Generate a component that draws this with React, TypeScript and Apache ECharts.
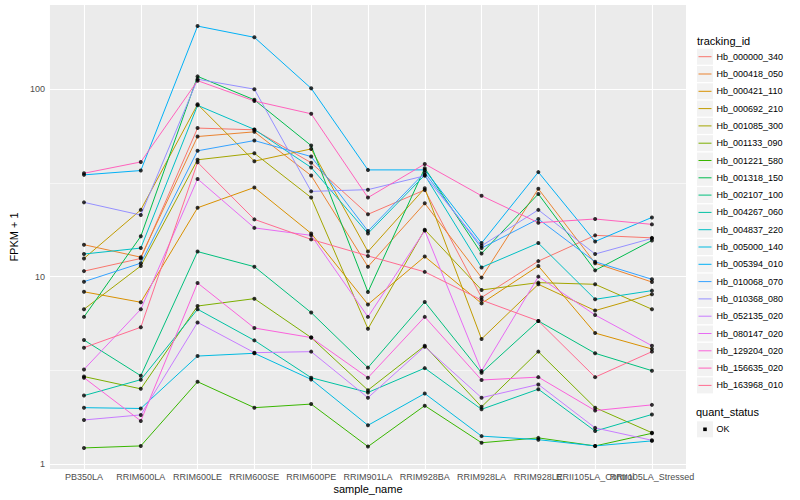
import React, { useEffect, useRef } from "react";
import * as echarts from "echarts";

const categories = [
  "PB350LA",
  "RRIM600LA",
  "RRIM600LE",
  "RRIM600SE",
  "RRIM600PE",
  "RRIM901LA",
  "RRIM928BA",
  "RRIM928LA",
  "RRIM928LE",
  "RRII105LA_Control",
  "RRII105LA_Stressed",
];

const trackingIds = [
  "Hb_000000_340",
  "Hb_000418_050",
  "Hb_000421_110",
  "Hb_000692_210",
  "Hb_001085_300",
  "Hb_001133_090",
  "Hb_001221_580",
  "Hb_001318_150",
  "Hb_002107_100",
  "Hb_004267_060",
  "Hb_004837_220",
  "Hb_005000_140",
  "Hb_005394_010",
  "Hb_010068_070",
  "Hb_010368_080",
  "Hb_052135_020",
  "Hb_080147_020",
  "Hb_129204_020",
  "Hb_156635_020",
  "Hb_163968_010",
];

const palette = [
  "#F8766D", "#EA8331", "#D89000", "#C09B00", "#A3A500",
  "#7CAE00", "#39B600", "#00BB4E", "#00BF7D", "#00C1A3",
  "#00BFC4", "#00BAE0", "#00B0F6", "#35A2FF", "#9590FF",
  "#C77CFF", "#E76BF3", "#FA62DB", "#FF62BC", "#FF6C91",
];

// FPKM + 1 per sample, in category order
const Hb_000000_340 = [10.7, 12.5, 62.0, 60.7, 40.5, 21.5, 29.0, 7.74, 12.1, 16.6, 16.1];
const Hb_000418_050 = [14.8, 12.7, 55.9, 59.2, 34.6, 11.3, 24.6, 9.88, 29.4, 11.8, 9.36];
const Hb_000421_110 = [8.3, 7.3, 23.3, 29.9, 17.0, 7.11, 12.8, 7.2, 11.4, 5.0, 4.11];
const Hb_000692_210 = [12.5, 22.7, 83.0, 41.3, 48.0, 13.6, 29.6, 4.65, 9.1, 6.59, 8.05];
const Hb_001085_300 = [6.7, 11.4, 42.0, 45.5, 26.4, 5.27, 17.8, 8.49, 9.29, 9.1, 6.7];
const Hb_001133_090 = [2.93, 2.52, 6.97, 7.63, 4.73, 2.48, 4.28, 2.02, 3.98, 2.0, 1.47];
const Hb_001221_580 = [1.22, 1.25, 2.75, 2.0, 2.09, 1.24, 2.05, 1.3, 1.38, 1.25, 1.46];
const Hb_001318_150 = [6.1, 16.4, 117, 87.7, 50.0, 8.28, 37.9, 13.3, 27.6, 10.8, 15.6];
const Hb_002107_100 = [4.59, 2.96, 13.6, 11.3, 6.43, 3.27, 7.33, 3.07, 5.8, 3.9, 3.15];
const Hb_004267_060 = [2.32, 2.82, 6.7, 4.57, 2.89, 2.41, 3.25, 1.96, 2.51, 1.5, 1.84];
const Hb_004837_220 = [13.2, 14.2, 82.0, 61.0, 38.2, 17.0, 34.8, 11.2, 15.1, 7.57, 8.42];
const Hb_005000_140 = [2.0, 1.98, 3.77, 3.9, 2.83, 1.61, 2.38, 1.41, 1.35, 1.25, 1.33];
const Hb_005394_010 = [34.9, 36.8, 217, 189, 101, 37.1, 37.1, 15.1, 36.1, 15.4, 20.7];
const Hb_010068_070 = [9.4, 11.8, 46.9, 53.2, 43.7, 17.5, 35.9, 14.2, 20.3, 12.0, 9.68];
const Hb_010368_080 = [24.9, 21.3, 113, 100, 28.5, 29.1, 34.5, 14.6, 22.7, 13.2, 16.0];
const Hb_052135_020 = [1.72, 1.83, 5.7, 3.93, 3.98, 2.26, 4.23, 2.26, 2.66, 1.56, 1.34];
const Hb_080147_020 = [3.2, 6.7, 33.2, 18.2, 16.6, 6.1, 17.6, 3.14, 10.0, 6.24, 4.28];
const Hb_129204_020 = [2.89, 1.7, 9.25, 5.32, 4.73, 2.89, 6.1, 2.81, 2.91, 1.93, 2.07];
const Hb_156635_020 = [35.6, 40.9, 111, 86.5, 73.9, 26.4, 39.9, 27.0, 19.4, 20.3, 19.0];
const Hb_163968_010 = [4.18, 5.37, 40.7, 20.2, 15.8, 12.9, 10.6, 7.5, 5.8, 2.91, 3.98];

const seriesValues = [
  Hb_000000_340, Hb_000418_050, Hb_000421_110, Hb_000692_210, Hb_001085_300,
  Hb_001133_090, Hb_001221_580, Hb_001318_150, Hb_002107_100, Hb_004267_060,
  Hb_004837_220, Hb_005000_140, Hb_005394_010, Hb_010068_070, Hb_010368_080,
  Hb_052135_020, Hb_080147_020, Hb_129204_020, Hb_156635_020, Hb_163968_010,
];

const yBreaks = [1, 10, 100];
const quantStatus = ["OK"];

const FONT = '"Liberation Sans", Arial, Helvetica, sans-serif';

export default function App() {
  const ref = useRef<HTMLDivElement>(null);

  useEffect(() => {
    if (!ref.current) return;
    const chart = echarts.init(ref.current, null, { renderer: "svg" });

    const all = seriesValues.flat();
    const lo = Math.log10(Math.min(...all));
    const hi = Math.log10(Math.max(...all));
    const pad = (hi - lo) * 0.05;
    const yMin = lo - pad;
    const yMax = hi + pad;
    const xMin = -0.6;
    const xMax = categories.length - 1 + 0.6;
    const majorY = yBreaks.map((b) => Math.log10(b));
    const minorY = majorY.slice(0, -1).map((v, i) => (v + majorY[i + 1]) / 2);
    const xIdx = categories.map((_, i) => i);

    const lineSeries = trackingIds.map((id, s) => ({
      name: id,
      type: "line",
      z: 3,
      showSymbol: false,
      symbol: "none",
      silent: true,
      lineStyle: { color: palette[s], width: 1 },
      itemStyle: { color: palette[s] },
      data: seriesValues[s].map((v, i) => [i, Math.log10(v)]),
    }));

    const pointData: number[][] = [];
    seriesValues.forEach((vals) => vals.forEach((v, i) => pointData.push([i, Math.log10(v)])));

    const gridLineData = [
      ...majorY.map((y) => ({ yAxis: y, lineStyle: { color: "#FFFFFF", width: 1.1, type: "solid" } })),
      ...minorY.map((y) => ({ yAxis: y, lineStyle: { color: "#FFFFFF", width: 0.55, type: "solid" } })),
      ...xIdx.map((x) => ({ xAxis: x, lineStyle: { color: "#FFFFFF", width: 1.1, type: "solid" } })),
    ];

    const legendX = 697;
    const legendTop = 56.7;
    const legendStep = 17.3;
    const graphics: any[] = [];
    graphics.push({
      type: "text",
      x: legendX,
      y: 40.7,
      style: { text: "tracking_id", fontSize: 11, fontFamily: FONT, fill: "#000000", verticalAlign: "middle", align: "left" },
    });
    trackingIds.forEach((id, i) => {
      const cy = legendTop + legendStep * i;
      graphics.push({
        type: "rect",
        shape: { x: legendX, y: cy - 8, width: 16, height: 16 },
        style: { fill: "#F2F2F2" },
      });
      graphics.push({
        type: "line",
        shape: { x1: legendX + 1.5, y1: cy, x2: legendX + 14.5, y2: cy },
        style: { stroke: palette[i], lineWidth: 1 },
      });
      graphics.push({
        type: "text",
        x: legendX + 19.5,
        y: cy,
        style: { text: id, fontSize: 9, fontFamily: FONT, fill: "#000000", verticalAlign: "middle", align: "left" },
      });
    });
    graphics.push({
      type: "text",
      x: legendX - 1,
      y: 412.3,
      style: { text: "quant_status", fontSize: 11, fontFamily: FONT, fill: "#000000", verticalAlign: "middle", align: "left" },
    });
    quantStatus.forEach((q, i) => {
      const cy = 429.3 + legendStep * i;
      graphics.push({
        type: "rect",
        shape: { x: legendX, y: cy - 8, width: 16, height: 16 },
        style: { fill: "#F2F2F2" },
      });
      graphics.push({
        type: "rect",
        shape: { x: legendX + 6.2, y: cy - 1.8, width: 3.6, height: 3.6 },
        style: { fill: "#000000" },
      });
      graphics.push({
        type: "text",
        x: legendX + 19.5,
        y: cy,
        style: { text: q, fontSize: 9, fontFamily: FONT, fill: "#000000", verticalAlign: "middle", align: "left" },
      });
    });

    const gridBottom = 31;

    chart.setOption({
      animation: false,
      backgroundColor: "#FFFFFF",
      textStyle: { fontFamily: FONT },
      grid: {
        left: 40,
        right: 114,
        top: 5,
        bottom: gridBottom,
        show: true,
        backgroundColor: "#EBEBEB",
        borderWidth: 0,
        containLabel: false,
      },
      xAxis: {
        type: "value",
        min: xMin,
        max: xMax,
        name: "sample_name",
        nameLocation: "middle",
        nameGap: 14,
        nameTextStyle: { fontSize: 11, color: "#000000", fontFamily: FONT },
        axisLine: { show: false },
        splitLine: { show: false },
        axisTick: { show: true, customValues: xIdx, length: 3, lineStyle: { color: "#333333", width: 1 } },
        axisLabel: { show: false, customValues: xIdx },
      },
      yAxis: {
        type: "value",
        min: yMin,
        max: yMax,
        name: "FPKM + 1",
        nameLocation: "middle",
        nameGap: 23,
        nameRotate: 90,
        nameTextStyle: { fontSize: 11, color: "#000000", fontFamily: FONT },
        axisLine: { show: false },
        splitLine: { show: false },
        axisTick: { show: true, customValues: majorY, length: 3, lineStyle: { color: "#333333", width: 1 } },
        axisLabel: {
          customValues: majorY,
          formatter: (v: number) => String(Math.round(Math.pow(10, v))),
          fontSize: 9,
          color: "#4D4D4D",
          margin: 5,
          showMinLabel: true,
          showMaxLabel: true,
          fontFamily: FONT,
        },
      },
      series: [
        ...lineSeries,
        {
          name: "points",
          type: "scatter",
          z: 4,
          silent: true,
          symbol: "circle",
          symbolSize: 4,
          itemStyle: { color: "#000000" },
          data: pointData,
          markLine: {
            z: 1,
            silent: true,
            symbol: ["none", "none"],
            label: { show: false },
            emphasis: { disabled: true },
            animation: false,
            data: gridLineData,
          },
        },
      ],
      graphic: graphics,
    });

    // x tick labels placed at the axis' own pixel positions (kept even where they overlap, as in the original)
    const axisY = 500 - gridBottom;
    const xLabels = categories.map((c, i) => {
      const px = chart.convertToPixel({ xAxisIndex: 0 }, i) as number;
      return {
        type: "text",
        x: px,
        y: axisY + 3.5,
        z: 10,
        style: {
          text: c,
          fontSize: 9,
          fontFamily: FONT,
          fill: "#4D4D4D",
          align: "center",
          verticalAlign: "top",
        },
      };
    });
    chart.setOption({ graphic: [...graphics, ...xLabels] });

    return () => {
      chart.dispose();
    };
  }, []);

  return (
    <div
      ref={ref}
      style={{ position: "absolute", left: 0, top: 0, width: 800, height: 500 }}
    />
  );
}
